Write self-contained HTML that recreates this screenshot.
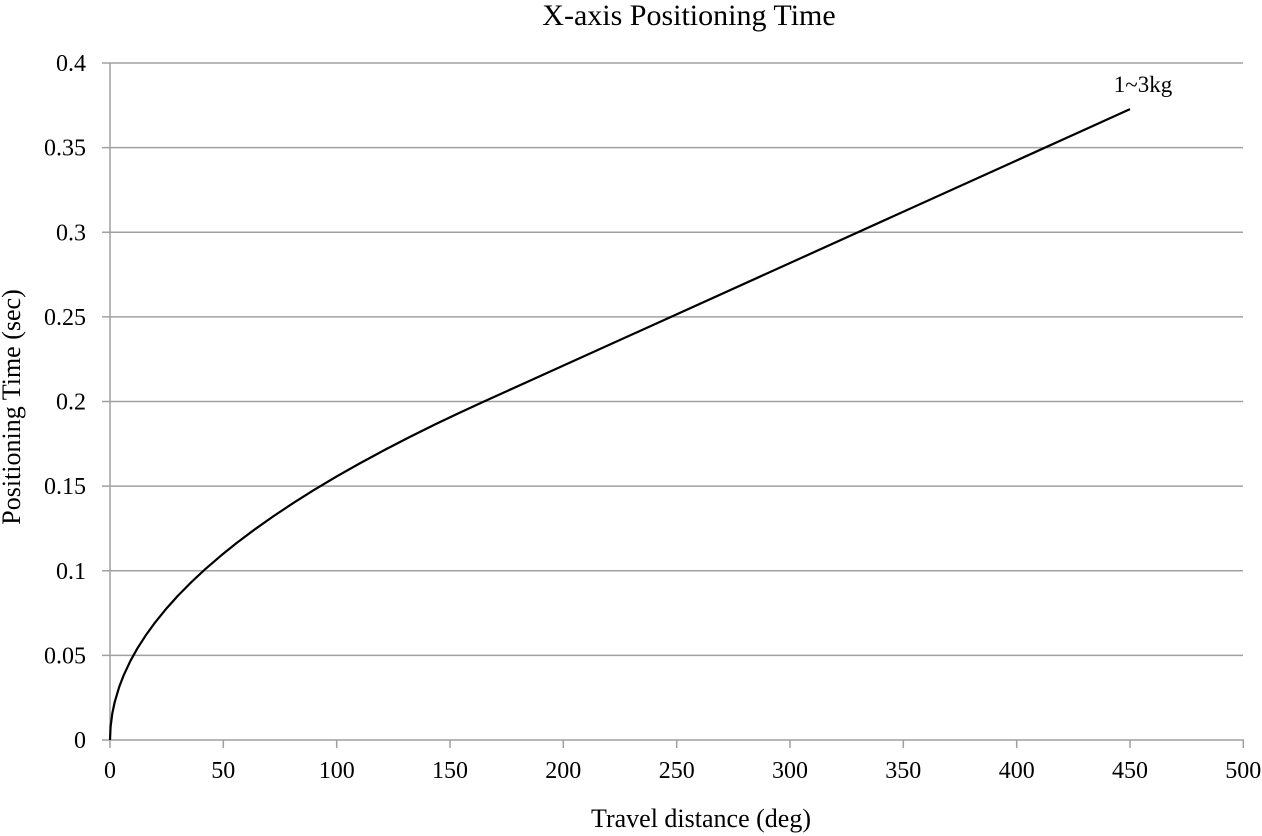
<!DOCTYPE html>
<html>
<head>
<meta charset="utf-8">
<style>
  html, body { margin: 0; padding: 0; background: #fff; }
  svg { display: block; }
  text { font-family: "Liberation Serif", "Times New Roman", serif; fill: #000; }
</style>
</head>
<body>
<svg width="1262" height="836" viewBox="0 0 1262 836" xmlns="http://www.w3.org/2000/svg">
  <rect x="0" y="0" width="1262" height="836" fill="#fff"/>
  <!-- Title -->
  <text x="689" y="25" font-size="30" text-anchor="middle">X-axis Positioning Time</text>

  <!-- Gridlines -->
  <g stroke="#a0a0a0" stroke-width="1.5" fill="none">
    <line x1="102" y1="63" x2="1243" y2="63"/>
    <line x1="102" y1="147.6" x2="1243" y2="147.6"/>
    <line x1="102" y1="232.25" x2="1243" y2="232.25"/>
    <line x1="102" y1="316.9" x2="1243" y2="316.9"/>
    <line x1="102" y1="401.5" x2="1243" y2="401.5"/>
    <line x1="102" y1="486.1" x2="1243" y2="486.1"/>
    <line x1="102" y1="570.75" x2="1243" y2="570.75"/>
    <line x1="102" y1="655.4" x2="1243" y2="655.4"/>
    <!-- x axis -->
    <line x1="102" y1="740" x2="1244" y2="740"/>
    <!-- y axis -->
    <line x1="110" y1="63" x2="110" y2="748"/>
    <!-- x ticks -->
    <line x1="223.3" y1="740" x2="223.3" y2="748"/>
    <line x1="336.7" y1="740" x2="336.7" y2="748"/>
    <line x1="450" y1="740" x2="450" y2="748"/>
    <line x1="563.3" y1="740" x2="563.3" y2="748"/>
    <line x1="676.7" y1="740" x2="676.7" y2="748"/>
    <line x1="790" y1="740" x2="790" y2="748"/>
    <line x1="903.3" y1="740" x2="903.3" y2="748"/>
    <line x1="1016.7" y1="740" x2="1016.7" y2="748"/>
    <line x1="1130" y1="740" x2="1130" y2="748"/>
    <line x1="1243.3" y1="740" x2="1243.3" y2="748"/>
  </g>

  <!-- Y tick labels -->
  <g font-size="24" text-anchor="end">
    <text x="86" y="71">0.4</text>
    <text x="86" y="155.6">0.35</text>
    <text x="86" y="240.3">0.3</text>
    <text x="86" y="324.9">0.25</text>
    <text x="86" y="409.5">0.2</text>
    <text x="86" y="494.1">0.15</text>
    <text x="86" y="578.8">0.1</text>
    <text x="86" y="663.4">0.05</text>
    <text x="86" y="748">0</text>
  </g>

  <!-- X tick labels -->
  <g font-size="24" text-anchor="middle">
    <text x="110" y="778">0</text>
    <text x="223.3" y="778">50</text>
    <text x="336.7" y="778">100</text>
    <text x="450" y="778">150</text>
    <text x="563.3" y="778">200</text>
    <text x="676.7" y="778">250</text>
    <text x="790" y="778">300</text>
    <text x="903.3" y="778">350</text>
    <text x="1016.7" y="778">400</text>
    <text x="1130" y="778">450</text>
    <text x="1243.3" y="778">500</text>
  </g>

  <!-- Axis titles -->
  <text x="701" y="827" font-size="26" text-anchor="middle">Travel distance (deg)</text>
  <text x="0" y="0" font-size="26" text-anchor="middle" transform="translate(20,407) rotate(-90)">Positioning Time (sec)</text>

  <!-- Series -->
  <polyline fill="none" stroke="#000" stroke-width="2.2" stroke-linejoin="round" stroke-linecap="butt"
    points="110,740 110.57,726.82 112.27,713.65 114.53,702.73 119.07,687.29 123.60,675.45 130.40,660.94 137.20,648.71 146.27,634.59 155.33,622.15 166.67,608.23 178.00,595.66 191.60,581.88 205.20,569.21 221.07,555.53 236.93,542.79 255.07,529.18 273.20,516.39 293.60,502.82 314.00,489.99 336.67,476.47 359.33,463.61 384.27,450.12 409.20,437.23 436.40,423.76 459.07,412.97 484.00,401.49 1130,109.16"/>

  <!-- Series label -->
  <text x="1143" y="92" font-size="23" text-anchor="middle">1~3kg</text>
</svg>
</body>
</html>
